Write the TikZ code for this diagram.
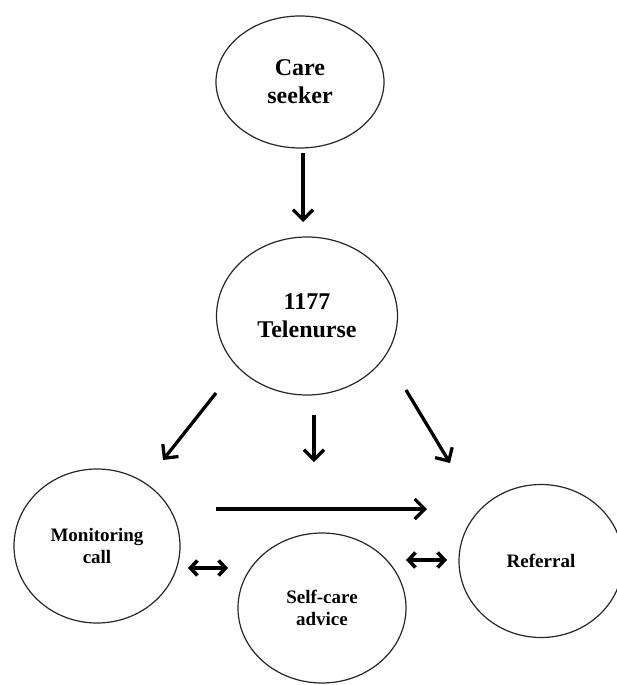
\documentclass[tikz,border=0pt]{standalone}
\usepackage{fontspec}
\setmainfont{Liberation Serif}
\usepackage{tikz}
\usetikzlibrary{%
  shapes.geometric,
  arrows.meta,
  positioning,
  calc}
\tikzset{
  %% Upper bubbles
  bigbubble/.style={
    ellipse, draw=black!85, line width=1.2pt,
    align=center, inner sep=0pt,
    font=\fontsize{24}{28}\selectfont\bfseries},
  %% Lower bubbles
  bubble/.style={
    ellipse, draw=black!85, line width=1.2pt,
    align=center, inner sep=0pt,
    font=\fontsize{19}{22}\selectfont\bfseries},
  %% Arrows
  arrow/.style={-{Straight Barb[length=10pt,width=20pt]}, line width=3.3pt},
  darrow/.style={{Straight Barb[length=7pt,width=15pt]}-{Straight Barb[length=7pt,width=15pt]},
    line width=3.6pt},
}
\begin{document}
\begin{tikzpicture}[x=1pt,y=-1pt]

  \useasboundingbox (0,0) rectangle (617,685);

  \node[bigbubble, minimum width=168pt, minimum height=132pt] (care)
        at (300,82) {Care\\ seeker};

  \node[bigbubble, minimum width=181pt, minimum height=158pt] (tele)
        at (307,316) {1177\\ Telenurse};

  \node[bubble, minimum width=166pt, minimum height=154pt] (mon)
        at (97,546) {Monitoring\\ call};

  \node[bubble, minimum width=168pt, minimum height=150pt] (self)
        at (322,608) {Self-care\\ advice};

  \node[bubble, minimum width=164pt, minimum height=153pt] (ref)
        at (541,561) {Referral};

  %% Free arrow ends
  \coordinate (c1) at (303,153);  \coordinate (t0) at (303,222);
  \coordinate (t1) at (216,393);  \coordinate (m0) at (163,460);
  \coordinate (t2) at (314,415);  \coordinate (s0) at (314,462);
  \coordinate (t3) at (406,390);  \coordinate (r0) at (450,463);
  \coordinate (m1) at (216,509);  \coordinate (r1) at (427,509);
  \coordinate (m2) at (188,568);  \coordinate (s1) at (228,568);
  \coordinate (s2) at (406,560);  \coordinate (r2) at (447,560);

  %% Main flow
  \draw[arrow] (c1) -- (t0);
  \draw[arrow] (t1) -- (m0);
  \draw[arrow] (t2) -- (s0);
  \draw[arrow] (t3) -- (r0);
  \draw[arrow] (m1) -- (r1);

  %% Two-way links
  \draw[darrow] (m2) -- (s1);
  \draw[darrow] (s2) -- (r2);

\end{tikzpicture}
\end{document}
